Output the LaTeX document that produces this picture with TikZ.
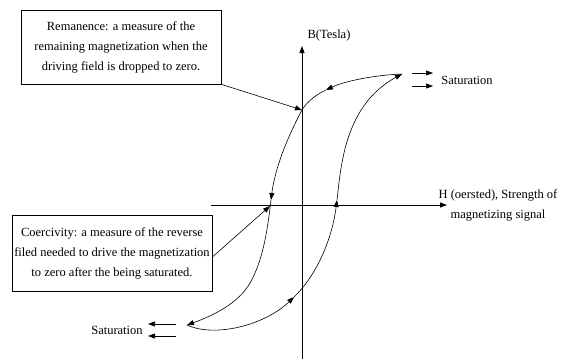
\documentclass[tikz,border=0pt]{standalone}
\usepackage{fontspec}
\setmainfont{Liberation Serif}
\usepackage{tikz}
\usetikzlibrary{arrows.meta,positioning,calc}

\begin{document}
\begin{tikzpicture}[font=\fontsize{12.5}{20}\selectfont, >={Triangle[length=7pt,width=5pt]}, x=1pt, y=-1pt,
  axis/.style={line width=0.8pt},
  curve/.style={line width=0.6pt},
  note/.style={draw, line width=0.7pt, align=center, inner sep=2pt, minimum width=200pt, minimum height=74pt}]
\useasboundingbox (0,0) rectangle (571,360);
% axes
\draw[axis,->] (302,359) -- (302,46);
\draw[axis,->] (211,205) -- (447,205);
\node (bLabel) at (329,35) {B(Tesla)};
\node[align=center] (hLabel) at (498,205) {H (oersted), Strength of\\magnetizing signal};
% key points of the loop
\coordinate (satR) at (402,74);
\coordinate (satL) at (187,325);
\coordinate (rem) at (302,110);
\coordinate (hc) at (270,206);
\coordinate (fa) at (326,90);
\coordinate (fb) at (271,200);
\coordinate (fc) at (250,283);
\coordinate (ra) at (294,297);
\coordinate (rb) at (337,200);
% falling branch
\draw[curve,->] (satR) .. controls (375,75) and (345,81) .. (fa);
\draw[curve] (fa) .. controls (315,95) and (306,103) .. (rem);
\draw[curve,->] (rem) .. controls (296,121) and (276,160) .. (fb);
\draw[curve] (fb) .. controls (267,235) and (262,262) .. (fc);
\draw[curve,->] (fc) .. controls (238,304) and (212,316) .. (satL);
% rising branch
\draw[curve,->] (satL) .. controls (215,338) and (265,325) .. (ra);
\draw[curve,->] (ra) .. controls (316,276) and (332,240) .. (rb);
\draw[curve,->] (rb) .. controls (341,165) and (345,105) .. (satR);
% saturation marks
\node (satTop) at (467,80) {Saturation};
\node (satBot) at (117,330) {Saturation};
\foreach \i/\dy in {1/73,2/86} {
  \coordinate (sa\i) at (412,\dy);
  \coordinate (sb\i) at (433,\dy);
  \draw[curve,->] (sa\i) -- (sb\i);
}
\foreach \i/\dy in {1/324,2/336} {
  \coordinate (la\i) at (176,\dy);
  \coordinate (lb\i) at (148,\dy);
  \draw[curve,->] (la\i) -- (lb\i);
}
% callouts
\node[note] (remBox) at (121,47) {Remanence: a measure of the\\remaining magnetization when the\\driving field is dropped to zero.};
\node[note, minimum height=76pt] (coerBox) at (112,253) {Coercivity: a measure of the reverse\\\makebox[196pt]{filed needed to drive the magnetization}\\to zero after the being saturated.};
\draw[curve,->] (remBox.south east) -- (rem);
\draw[curve,->] ($(coerBox.east)+(0,4)$) -- (hc);
\end{tikzpicture}
\end{document}
